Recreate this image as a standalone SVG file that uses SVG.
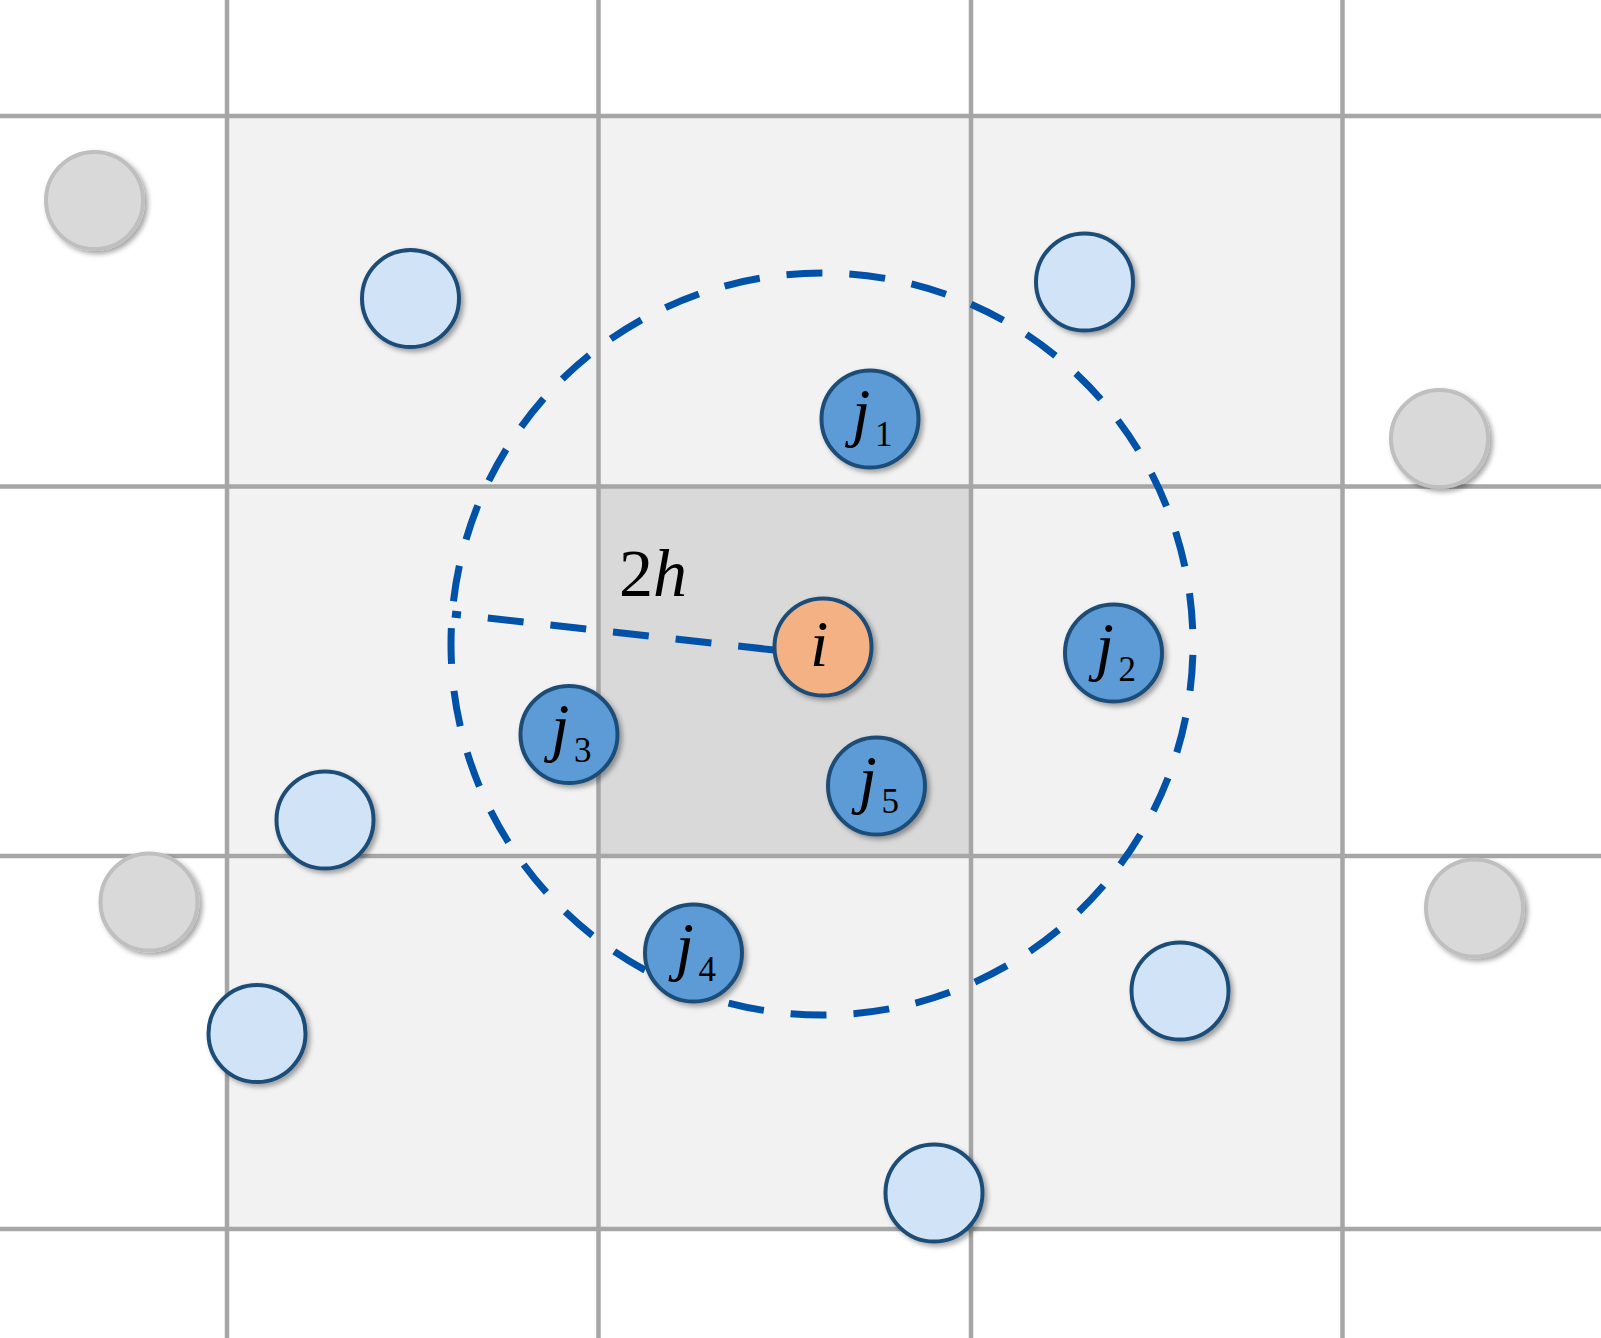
<svg xmlns="http://www.w3.org/2000/svg" width="1601" height="1338" viewBox="0 0 1601 1338">
<style>
.grid{stroke:#a6a6a6;stroke-width:4.5;fill:none}
.node{stroke-width:4;filter:url(#sh)}
.dark{fill:#5b9bd5;stroke:#1f4e79}
.light{fill:#d1e3f6;stroke:#1f4e79}
.grey{fill:#d9d9d9;stroke:#bfbfbf}
.orange{fill:#f4b183;stroke:#1f4e79}
.dash{fill:none;stroke:#0052a8;stroke-width:7;stroke-dasharray:36 27}
.lbl{font-family:"Liberation Serif","DejaVu Serif",serif;fill:#000}
.it{font-style:italic;font-size:66px}
.sub{font-size:35px}
</style>
<defs>
<filter id="sh" x="-30%" y="-30%" width="160%" height="160%">
<feDropShadow dx="3" dy="3" stdDeviation="2.5" flood-color="#000" flood-opacity="0.35"/>
</filter>
</defs>
<rect x="0" y="0" width="1601" height="1338" fill="#ffffff"/>
<rect x="227" y="116" width="1115.5" height="1113" fill="#f2f2f2"/>
<rect x="598.5" y="486.5" width="372.5" height="369.5" fill="#d9d9d9"/>
<g id="grid">
<line class="grid" x1="227" y1="0" x2="227" y2="1338"/>
<line class="grid" x1="598.5" y1="0" x2="598.5" y2="1338"/>
<line class="grid" x1="971" y1="0" x2="971" y2="1338"/>
<line class="grid" x1="1342.5" y1="0" x2="1342.5" y2="1338"/>
<line class="grid" x1="0" y1="116" x2="1601" y2="116"/>
<line class="grid" x1="0" y1="486.5" x2="1601" y2="486.5"/>
<line class="grid" x1="0" y1="856" x2="1601" y2="856"/>
<line class="grid" x1="0" y1="1229" x2="1601" y2="1229"/>
</g>
<g id="connectors">
<path class="dash" style="stroke-dashoffset:-11" d="M 1193 644 A 371 371 0 1 1 451 644 A 371 371 0 1 1 1193 644 Z"/>
<path class="dash" d="M 774 650 L 452 614"/>
</g>
<text id="label-2h" class="lbl" x="619" y="596" font-size="68"><tspan>2</tspan><tspan font-style="italic">h</tspan></text>
<g id="grey1"><circle class="node grey" cx="94.5" cy="200.5" r="48.5"/></g>
<g id="grey2"><circle class="node grey" cx="1439.5" cy="438.5" r="48.5"/></g>
<g id="grey3"><circle class="node grey" cx="149" cy="902" r="48.5"/></g>
<g id="grey4"><circle class="node grey" cx="1474.5" cy="908" r="48.5"/></g>
<g id="light1"><circle class="node light" cx="410.5" cy="298.5" r="48.5"/></g>
<g id="light2"><circle class="node light" cx="1084.5" cy="282" r="48.5"/></g>
<g id="light3"><circle class="node light" cx="325" cy="820" r="48.5"/></g>
<g id="light4"><circle class="node light" cx="257" cy="1033.5" r="48.5"/></g>
<g id="light5"><circle class="node light" cx="1180" cy="991" r="48.5"/></g>
<g id="light6"><circle class="node light" cx="934" cy="1193" r="48.5"/></g>
<g id="node-i"><circle class="node orange" cx="823" cy="647" r="48.5"/>
<text class="lbl it" x="810" y="666" font-size="68">i</text></g>
<g id="node-j1"><circle class="node dark" cx="870" cy="419" r="48.5"/>
<text class="lbl it" x="852" y="433.5">j</text><text class="lbl sub" x="875" y="446">1</text></g>
<g id="node-j2"><circle class="node dark" cx="1113.5" cy="653" r="48.5"/>
<text class="lbl it" x="1095.5" y="667.5">j</text><text class="lbl sub" x="1118.5" y="681">2</text></g>
<g id="node-j3"><circle class="node dark" cx="569" cy="734.5" r="48.5"/>
<text class="lbl it" x="551" y="749">j</text><text class="lbl sub" x="574" y="762">3</text></g>
<g id="node-j4"><circle class="node dark" cx="693.5" cy="953" r="48.5"/>
<text class="lbl it" x="675.5" y="967.5">j</text><text class="lbl sub" x="698.5" y="980.5">4</text></g>
<g id="node-j5"><circle class="node dark" cx="876.5" cy="786" r="48.5"/>
<text class="lbl it" x="858.5" y="800.5">j</text><text class="lbl sub" x="881.5" y="813">5</text></g>
</svg>
